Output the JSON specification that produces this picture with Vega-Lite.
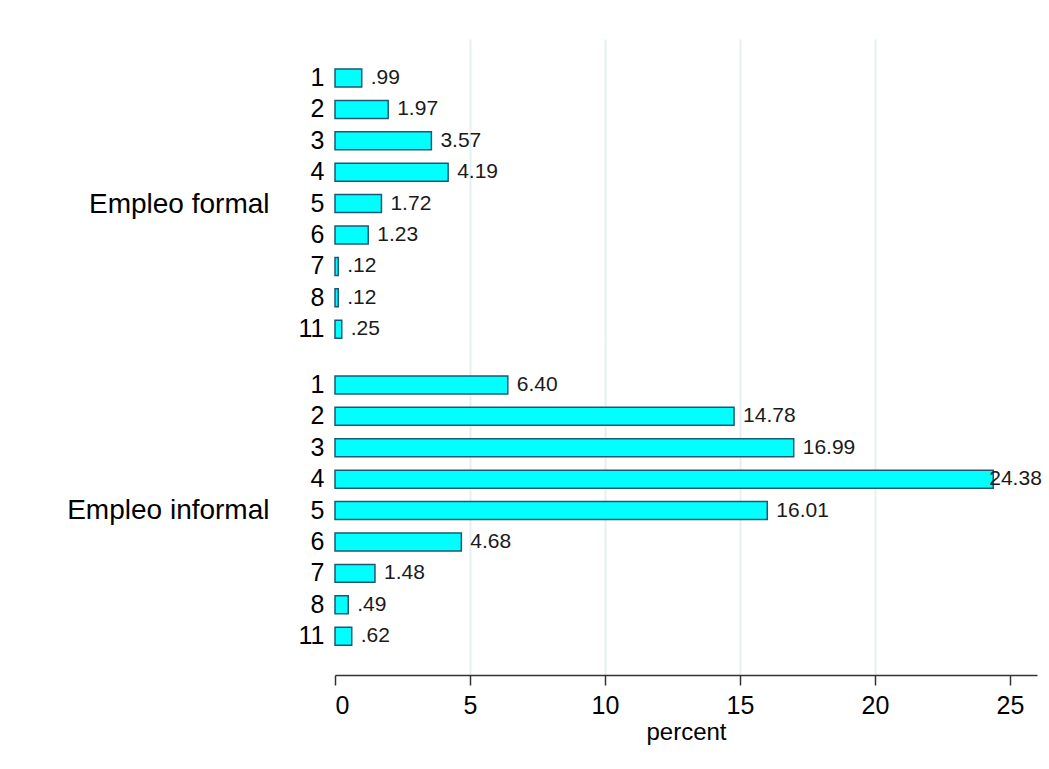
{
  "$schema": "https://vega.github.io/schema/vega-lite/v6.json",
  "autosize": {"type": "pad"},
  "bounds": "flush",
  "padding": {"left": 66, "top": 39, "right": 5, "bottom": 5},
  "background": "white",
  "datasets": {
    "d": [
      {"group": "Empleo formal", "cat": "1", "percent": 0.99},
      {"group": "Empleo formal", "cat": "2", "percent": 1.97},
      {"group": "Empleo formal", "cat": "3", "percent": 3.57},
      {"group": "Empleo formal", "cat": "4", "percent": 4.19},
      {"group": "Empleo formal", "cat": "5", "percent": 1.72},
      {"group": "Empleo formal", "cat": "6", "percent": 1.23},
      {"group": "Empleo formal", "cat": "7", "percent": 0.12},
      {"group": "Empleo formal", "cat": "8", "percent": 0.12},
      {"group": "Empleo formal", "cat": "11", "percent": 0.25},
      {"group": "Empleo informal", "cat": "1", "percent": 6.40},
      {"group": "Empleo informal", "cat": "2", "percent": 14.78},
      {"group": "Empleo informal", "cat": "3", "percent": 16.99},
      {"group": "Empleo informal", "cat": "4", "percent": 24.38},
      {"group": "Empleo informal", "cat": "5", "percent": 16.01},
      {"group": "Empleo informal", "cat": "6", "percent": 4.68},
      {"group": "Empleo informal", "cat": "7", "percent": 1.48},
      {"group": "Empleo informal", "cat": "8", "percent": 0.49},
      {"group": "Empleo informal", "cat": "11", "percent": 0.62}
    ]
  },
  "config": {
    "font": "Liberation Sans",
    "view": {"stroke": null},
    "axis": {"labelColor": "#000", "titleColor": "#000", "titleFontWeight": "normal"},
    "concat": {"spacing": 0}
  },
  "spacing": 0,
  "vconcat": [
    {
      "width": 702,
      "height": 304,
      "data": {"name": "d"},
      "transform": [
        {"filter": "datum.group == 'Empleo formal'"},
        {"calculate": "datum.percent < 1 ? substring(format(datum.percent, '.2f'), 1) : format(datum.percent, '.2f')", "as": "lbl"}
      ],
      "encoding": {
        "y": {
          "field": "cat", "type": "nominal",
          "sort": ["1", "2", "3", "4", "5", "6", "7", "8", "11"],
          "scale": {"paddingInner": 0.427, "paddingOuter": 0.554, "align": 0.862, "round": false},
          "axis": {
            "title": "Empleo formal", "titleAngle": 0, "titleAlign": "right", "titleBaseline": "middle",
            "titleX": -66, "titleY": 165, "titleFontSize": 28,
            "domain": false, "ticks": false, "labelFontSize": 25, "labelPadding": 11, "grid": false
          }
        }
      },
      "layer": [
        {
          "mark": {"type": "bar", "fill": "#00FFFF", "stroke": "#1d5873", "strokeWidth": 1.5},
          "encoding": {
            "x": {
              "field": "percent", "type": "quantitative",
              "scale": {"domain": [0, 26], "nice": false, "zero": true},
              "axis": {
                "title": null, "labels": false, "ticks": false, "domain": false,
                "values": [0, 5, 10, 15, 20, 25], "grid": true, "gridColor": "#e6eff1", "gridWidth": 2,
                "gridOpacity": {"expr": "datum.value == 0 || datum.value == 25 ? 0 : 1"}
              }
            }
          }
        },
        {
          "mark": {"type": "text", "align": "left", "baseline": "middle", "dx": 9, "fontSize": 21, "color": "#1a1a1a"},
          "encoding": {
            "x": {"field": "percent", "type": "quantitative"},
            "text": {"field": "lbl"}
          }
        }
      ]
    },
    {
      "width": 702,
      "height": 332,
      "data": {"name": "d"},
      "transform": [
        {"filter": "datum.group == 'Empleo informal'"},
        {"calculate": "datum.percent < 1 ? substring(format(datum.percent, '.2f'), 1) : format(datum.percent, '.2f')", "as": "lbl"}
      ],
      "encoding": {
        "y": {
          "field": "cat", "type": "nominal",
          "sort": ["1", "2", "3", "4", "5", "6", "7", "8", "11"],
          "scale": {"paddingInner": 0.427, "paddingOuter": 1, "align": 0.525, "round": false},
          "axis": {
            "title": "Empleo informal", "titleAngle": 0, "titleAlign": "right", "titleBaseline": "middle",
            "titleX": -66, "titleY": 167, "titleFontSize": 28,
            "domain": false, "ticks": false, "labelFontSize": 25, "labelPadding": 11, "grid": false
          }
        }
      },
      "layer": [
        {
          "mark": {"type": "bar", "fill": "#00FFFF", "stroke": "#1d5873", "strokeWidth": 1.5},
          "encoding": {
            "x": {
              "field": "percent", "type": "quantitative",
              "scale": {"domain": [0, 26], "nice": false, "zero": true},
              "axis": {
                "title": "percent", "titleFontSize": 24, "titlePadding": 2,
                "values": [0, 5, 10, 15, 20, 25], "labelFontSize": 25, "labelPadding": 8,
                "tickSize": 10, "tickColor": "#333", "tickWidth": 1.5,
                "domainColor": "#333", "domainWidth": 1.5,
                "grid": true, "gridColor": "#e6eff1", "gridWidth": 2,
                "gridOpacity": {"expr": "datum.value == 0 || datum.value == 25 ? 0 : 1"}
              }
            }
          }
        },
        {
          "transform": [{"filter": "datum.percent < 24"}],
          "mark": {"type": "text", "align": "left", "baseline": "middle", "dx": 9, "fontSize": 21, "color": "#1a1a1a"},
          "encoding": {
            "x": {"field": "percent", "type": "quantitative"},
            "text": {"field": "lbl"}
          }
        },
        {
          "transform": [{"filter": "datum.percent >= 24"}],
          "mark": {"type": "text", "align": "left", "baseline": "middle", "dx": -4, "fontSize": 21, "color": "#1a1a1a"},
          "encoding": {
            "x": {"field": "percent", "type": "quantitative"},
            "text": {"field": "lbl"}
          }
        }
      ]
    }
  ]
}
